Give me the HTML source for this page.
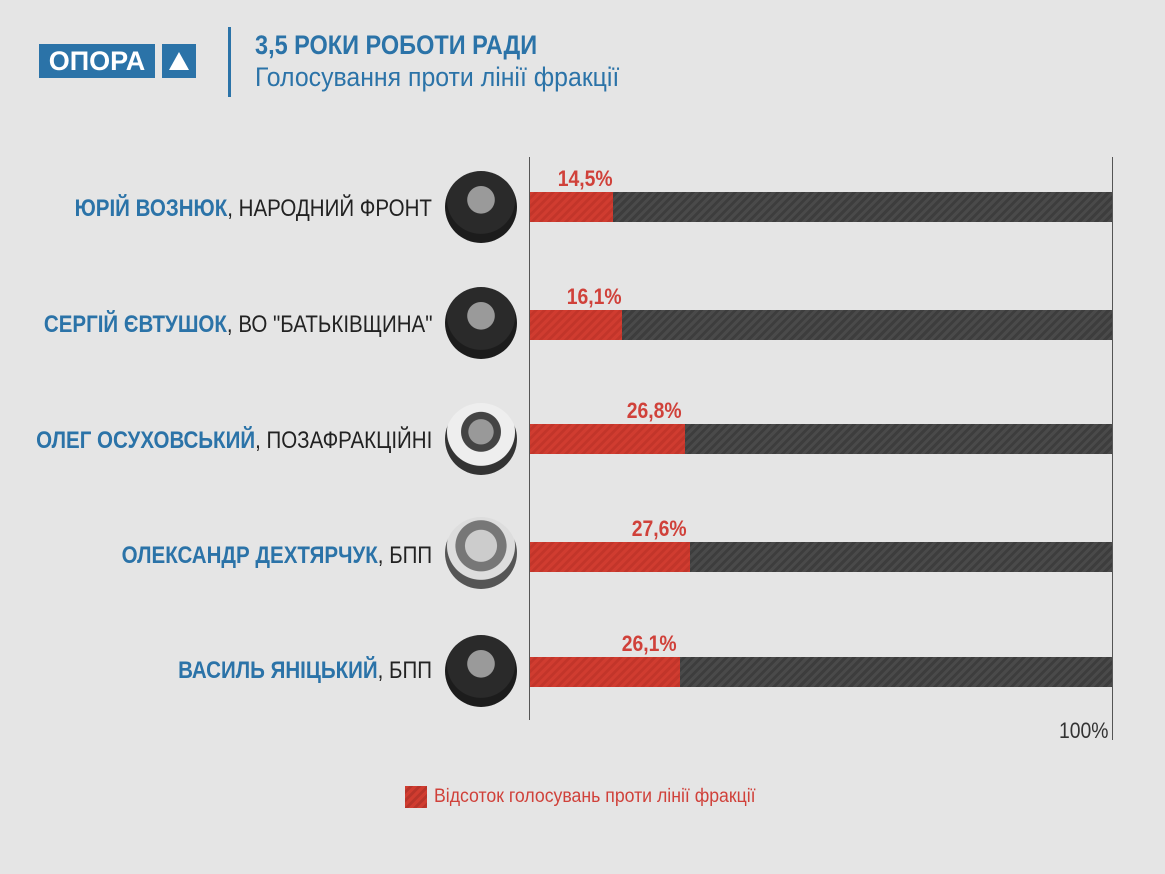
<!DOCTYPE html>
<html><head><meta charset="utf-8"><style>
body{margin:0;width:1165px;height:874px;background:#e5e5e5;font-family:"Liberation Sans",sans-serif;position:relative;overflow:hidden}
.a{position:absolute;white-space:nowrap}
.n{right:733px;font-size:24px;color:#222;transform:scaleX(.855);transform-origin:right center}
.n b{color:#2b73a8}
.bar{position:absolute;left:530px;width:582px;height:30px;background:repeating-linear-gradient(135deg,#3d3d3d 0 3px,#4a4a4a 3px 6px)}
.r{position:absolute;left:0;top:0;bottom:0;background:repeating-linear-gradient(135deg,#d03c30 0 3px,#c2352a 3px 6px)}
.p{position:absolute;font-size:22px;font-weight:bold;color:#d0413a;transform:scaleX(.88);transform-origin:center}
.c{position:absolute;left:445px;width:72px;height:72px;border-radius:50%;background:radial-gradient(circle at 50% 40%,#9a9a9a 0 24%,#2a2a2a 25% 60%,#1c1c1c 61%);}
</style></head><body>
<div class="a" style="left:39px;top:44px;width:116px;height:34px;background:#2b73a8;color:#fff;font-weight:bold;font-size:27px;line-height:34px;text-align:center">ОПОРА</div>
<div class="a" style="left:162px;top:44px;width:34px;height:34px;background:#2b73a8"></div>
<div class="a" style="left:169px;top:52px;width:0;height:0;border-left:10px solid transparent;border-right:10px solid transparent;border-bottom:18px solid #fff"></div>
<div class="a" style="left:228px;top:27px;width:3px;height:70px;background:#2b73a8"></div>
<div class="a" style="left:255px;top:30px;font-size:27px;font-weight:bold;color:#2b73a8;transform:scaleX(.87);transform-origin:left">3,5 РОКИ РОБОТИ РАДИ</div>
<div class="a" style="left:255px;top:62px;font-size:27px;color:#2b73a8;transform:scaleX(.92);transform-origin:left">Голосування проти лінії фракції</div>
<div class="a" style="left:529px;top:157px;width:1px;height:563px;background:#555"></div>
<div class="a" style="left:1112px;top:157px;width:1px;height:583px;background:#555"></div>
<div class="a n" style="top:195px"><b>ЮРІЙ ВОЗНЮК</b>, НАРОДНИЙ ФРОНТ</div>
<div class="a n" style="top:311px"><b>СЕРГІЙ ЄВТУШОК</b>, ВО "БАТЬКІВЩИНА"</div>
<div class="a n" style="top:427px"><b>ОЛЕГ ОСУХОВСЬКИЙ</b>, ПОЗАФРАКЦІЙНІ</div>
<div class="a n" style="top:542px"><b>ОЛЕКСАНДР ДЕХТЯРЧУК</b>, БПП</div>
<div class="a n" style="top:657px"><b>ВАСИЛЬ ЯНІЦЬКИЙ</b>, БПП</div>
<div class="c" style="top:171px"></div><div class="c" style="top:287px"></div><div class="c" style="top:403px;background:radial-gradient(circle at 50% 40%,#999 0 22%,#444 23% 35%,#eee 36% 60%,#333 61%)"></div><div class="c" style="top:517px;background:radial-gradient(circle at 50% 40%,#ccc 0 28%,#777 29% 45%,#ddd 46% 60%,#555 61%)"></div><div class="c" style="top:635px"></div>
<div class="bar" style="top:192px"><div class="r" style="width:83px"></div></div>
<div class="bar" style="top:310px"><div class="r" style="width:92px"></div></div>
<div class="bar" style="top:424px"><div class="r" style="width:155px"></div></div>
<div class="bar" style="top:542px"><div class="r" style="width:160px"></div></div>
<div class="bar" style="top:657px"><div class="r" style="width:150px"></div></div>
<div class="p" style="left:554px;top:166px">14,5%</div>
<div class="p" style="left:563px;top:284px">16,1%</div>
<div class="p" style="left:623px;top:398px">26,8%</div>
<div class="p" style="left:628px;top:516px">27,6%</div>
<div class="p" style="left:618px;top:631px">26,1%</div>
<div class="a" style="left:1059px;top:718px;font-size:22px;color:#333;transform:scaleX(.88);transform-origin:left">100%</div>
<div class="a" style="left:405px;top:786px;width:22px;height:22px;background:repeating-linear-gradient(135deg,#d03c30 0 3px,#b8342a 3px 6px)"></div>
<div class="a" style="left:434px;top:786px;font-size:19px;color:#d0413a;transform:scaleX(.93);transform-origin:left">Відсоток голосувань проти лінії фракції</div>
</body></html>
